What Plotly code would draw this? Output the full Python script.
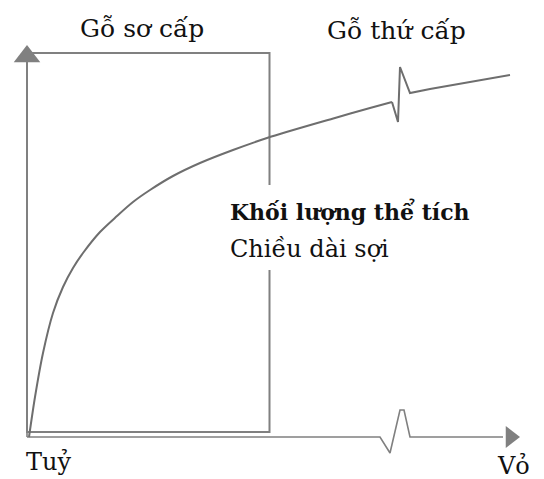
import plotly.graph_objects as go

# Property trend from pith (Tuỷ) to bark (Vỏ), schematic units
dist = [2, 8, 16, 26, 36, 46, 56, 73, 90, 106, 123, 146, 173, 206, 240, 308, 343, 365]
value = [0, 40, 84, 124, 150, 169, 184, 205, 221, 235, 247, 261, 274, 287, 299, 319, 329, 335]

# Break mark on the curve and its continuation towards the bark
break_dist = [365, 371, 373, 383, 403, 483]
break_value = [335, 315, 370, 344, 348, 362]

# Horizontal axis with a break mark
axis_x = [0, 353, 363, 373, 377, 383, 476]
axis_y = [0, 0, -16, 27, 27, 0, 0]

# Juvenile-wood zone boundaries
juv_x = [0, 242.5]
juv_y = [5, 384]

Y_AXIS_TOP = 375
ARROW_Y = 380.5
ARROW_X = 483.5

FONT = "DejaVu Serif"
GREY = "#808080"
CURVE = "#6e6e6e"

fig = go.Figure()

# vertical axis
fig.add_trace(go.Scatter(x=[0, 0], y=[0, Y_AXIS_TOP], mode="lines",
                         line=dict(color=GREY, width=1.6), hoverinfo="skip"))
# horizontal axis with break
fig.add_trace(go.Scatter(x=axis_x, y=axis_y, mode="lines",
                         line=dict(color=GREY, width=1.6), hoverinfo="skip"))
# arrow heads
fig.add_trace(go.Scatter(x=[0], y=[ARROW_Y], mode="markers",
                         marker=dict(symbol="triangle-up", size=23, color=GREY,
                                     line=dict(width=0)), hoverinfo="skip"))
fig.add_trace(go.Scatter(x=[ARROW_X], y=[0], mode="markers",
                         marker=dict(symbol="triangle-right", size=19, color=GREY,
                                     line=dict(width=0)), hoverinfo="skip"))
# property curve (smooth part, then the break)
fig.add_trace(go.Scatter(x=dist, y=value, mode="lines",
                         line=dict(color=CURVE, width=2, shape="spline", smoothing=0.8),
                         hoverinfo="skip"))
fig.add_trace(go.Scatter(x=break_dist, y=break_value, mode="lines",
                         line=dict(color=CURVE, width=2), hoverinfo="skip"))

# juvenile wood box
fig.add_shape(type="rect", x0=juv_x[0], x1=juv_x[1], y0=juv_y[0], y1=juv_y[1],
              line=dict(color=GREY, width=2), layer="below")

# white backing behind the property labels
fig.add_shape(type="rect", x0=190, x1=460, y0=167, y1=252,
              line=dict(width=0), fillcolor="white", layer="below")

def label(txt, x, y, size, xanchor="center", bold=False):
    fig.add_annotation(x=x, y=y, text=f"<b>{txt}</b>" if bold else txt,
                       showarrow=False, xanchor=xanchor, yanchor="middle",
                       font=dict(family=FONT, size=size, color="#111111"))

label("Gỗ sơ cấp", 115, 409, 25)
label("Gỗ thứ cấp", 369, 407, 25)
label("Khối lượng thể tích", 201, 226, 22, xanchor="left", bold=True)
label("Chiều dài sợi", 201, 188, 24, xanchor="left")
label("Tuỷ", -3, -25, 24, xanchor="left")
label("Vỏ", 468, -29, 24, xanchor="left")

fig.update_layout(
    width=544, height=479,
    margin=dict(l=0, r=0, t=0, b=0),
    paper_bgcolor="white", plot_bgcolor="white",
    showlegend=False,
    xaxis=dict(range=[-27, 517], visible=False, fixedrange=True),
    yaxis=dict(range=[-42, 437], visible=False, fixedrange=True),
)

fig.write_html("out.html")
